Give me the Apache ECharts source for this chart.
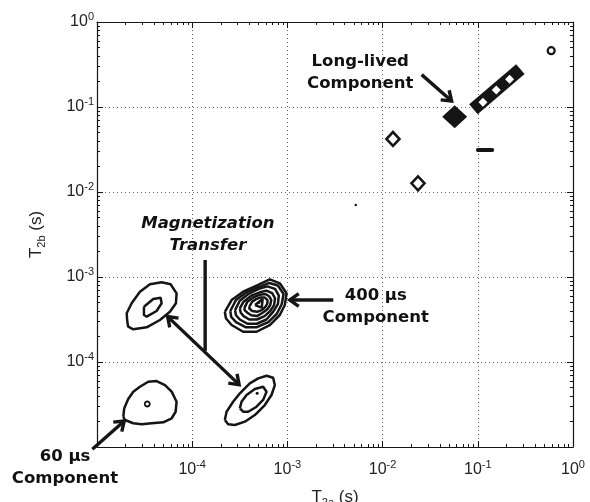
<!DOCTYPE html>
<html><head><meta charset="utf-8">
<script src="https://cdn.jsdelivr.net/npm/echarts@6/dist/echarts.min.js"></script>
<style>html,body{margin:0;padding:0;background:#fff}#c{width:590px;height:502px}</style>
</head><body><div id="c"></div>
<script>
// All vertices below are [log10(T2a / s), log10(T2b / s)].
const c60Outer = [[-4.724,-4.644],[-4.714,-4.545],[-4.672,-4.435],[-4.619,-4.349],[-4.549,-4.291],[-4.462,-4.232],[-4.374,-4.224],[-4.286,-4.271],[-4.216,-4.349],[-4.164,-4.467],[-4.174,-4.585],[-4.216,-4.662],[-4.304,-4.709],[-4.426,-4.721],[-4.531,-4.733],[-4.619,-4.721],[-4.706,-4.682]];
const c60Center = [[-4.472,-4.494]];

const mtUpperOuter = [[-4.682,-3.526],[-4.688,-3.427],[-4.636,-3.309],[-4.549,-3.173],[-4.444,-3.086],[-4.321,-3.062],[-4.227,-3.086],[-4.164,-3.192],[-4.171,-3.309],[-4.234,-3.408],[-4.339,-3.506],[-4.478,-3.592],[-4.619,-3.615],[-4.672,-3.585]];
const mtUpperInner = [[-4.507,-3.349],[-4.409,-3.259],[-4.332,-3.244],[-4.321,-3.309],[-4.374,-3.400],[-4.478,-3.467],[-4.507,-3.447]];

const mtLowerOuter = [[-3.657,-4.682],[-3.639,-4.585],[-3.570,-4.467],[-3.499,-4.368],[-3.395,-4.251],[-3.307,-4.192],[-3.219,-4.161],[-3.150,-4.185],[-3.132,-4.271],[-3.167,-4.388],[-3.237,-4.506],[-3.342,-4.624],[-3.447,-4.702],[-3.552,-4.741],[-3.622,-4.733]];
const mtLowerInner = [[-3.499,-4.545],[-3.482,-4.467],[-3.429,-4.388],[-3.342,-4.318],[-3.255,-4.291],[-3.219,-4.349],[-3.255,-4.447],[-3.324,-4.526],[-3.412,-4.585],[-3.465,-4.585]];
const mtLowerDot = [[-3.318,-4.368]];

const c400L1 = [[-3.657,-3.409],[-3.586,-3.271],[-3.465,-3.173],[-3.307,-3.094],[-3.185,-3.027],[-3.080,-3.074],[-3.009,-3.192],[-3.027,-3.330],[-3.080,-3.447],[-3.185,-3.565],[-3.324,-3.644],[-3.465,-3.644],[-3.586,-3.565],[-3.646,-3.486]];
const c400L2 = [[-3.60,-3.40],[-3.54,-3.27],[-3.43,-3.18],[-3.30,-3.12],[-3.19,-3.07],[-3.10,-3.10],[-3.04,-3.20],[-3.06,-3.32],[-3.11,-3.43],[-3.20,-3.53],[-3.32,-3.59],[-3.44,-3.59],[-3.54,-3.53],[-3.59,-3.47]];
const c400L3 = [[-3.55,-3.39],[-3.50,-3.28],[-3.41,-3.20],[-3.30,-3.14],[-3.21,-3.11],[-3.13,-3.14],[-3.09,-3.22],[-3.10,-3.32],[-3.15,-3.41],[-3.22,-3.50],[-3.32,-3.55],[-3.42,-3.55],[-3.50,-3.50],[-3.54,-3.45]];
const c400L4 = [[-3.50,-3.37],[-3.46,-3.29],[-3.38,-3.22],[-3.29,-3.18],[-3.22,-3.16],[-3.16,-3.19],[-3.13,-3.25],[-3.14,-3.33],[-3.18,-3.40],[-3.24,-3.46],[-3.32,-3.50],[-3.40,-3.50],[-3.46,-3.46],[-3.49,-3.42]];
const c400L5 = [[-3.45,-3.36],[-3.42,-3.29],[-3.36,-3.24],[-3.29,-3.21],[-3.23,-3.20],[-3.19,-3.23],[-3.17,-3.27],[-3.18,-3.33],[-3.21,-3.38],[-3.26,-3.42],[-3.32,-3.46],[-3.38,-3.45],[-3.42,-3.42],[-3.45,-3.39]];
const c400L6 = [[-3.40,-3.35],[-3.37,-3.29],[-3.33,-3.26],[-3.28,-3.24],[-3.24,-3.24],[-3.21,-3.27],[-3.21,-3.31],[-3.23,-3.35],[-3.27,-3.39],[-3.32,-3.41],[-3.37,-3.40],[-3.40,-3.37]];
const c400Core = [[-3.34,-3.33],[-3.26,-3.26],[-3.27,-3.36]];
const c400Dot = [[-3.30,-3.30]];

const openDiamonds = [[-1.891,-1.376],[-1.628,-1.898]];
const smallRing = [[-0.229,-0.337]];
const tinyDot = [[-2.282,-2.153]];
const longLivedPeak = [[-1.243,-1.114]];
const ridge = [[-1.046,-1.027],[-0.553,-0.555]];
const ridgeGaps = [[-0.946,-0.945],[-0.806,-0.800],[-0.666,-0.674]];
const dash = [[-0.999,-1.506],[-0.849,-1.506]];

// axis ticks (seconds)
const majorTicks = [1e-5,1e-4,1e-3,1e-2,1e-1,1];
const labelTicks = [1e-4,1e-3,1e-2,1e-1,1];
const minorTicks = [];
for (let e = -5; e < 0; e++) for (let k = 2; k <= 9; k++) minorTicks.push(k * Math.pow(10, e));

// annotations, anchors in [log10 x, log10 y]
const notes = [
  {text:'Long-lived\nComponent', at:[-2.235,-0.594], italic:false},
  {text:'400 µs\nComponent', at:[-2.072,-3.353], italic:false},
  {text:'Magnetization\nTransfer', at:[-3.835,-2.506], italic:true},
  {text:'60 µs\nComponent', at:[-5.336,-5.247], italic:false}
];
const arrows = [
  {from:[-1.590,-0.619], to:[-1.275,-0.929], start:false, end:true},
  {from:[-2.518,-3.271], to:[-2.975,-3.271], start:false, end:true},
  {from:[-5.049,-5.027], to:[-4.714,-4.694], start:false, end:true},
  {from:[-4.258,-3.466], to:[-3.507,-4.266], start:true, end:true},
  {from:[-3.864,-2.800], to:[-3.864,-3.870], start:false, end:false}
];

const toSec = p => [Math.pow(10, p[0]), Math.pow(10, p[1])];
const closed = pts => pts.concat([pts[0]]).map(toSec);
const INK = '#151515';
const tickFont = 'Liberation Sans, Arial, Helvetica, sans-serif';

const richLab = {
  b:{fontSize:16, fontFamily:tickFont, color:'#222'},
  s:{fontSize:11, fontFamily:tickFont, color:'#222', padding:[0,0,10,0]}
};
const powLabel = v => '{b|10}{s|' + Math.round(Math.log10(v)) + '}';
const nameRich = {
  t:{fontSize:17, fontFamily:tickFont, color:'#222'},
  s:{fontSize:11, fontFamily:tickFont, color:'#222', padding:[10,0,0,0]}
};

function mkAxis(pos, ticks, len, opts) {
  return Object.assign({
    type:'log', logBase:10, min:1e-5, max:1, position:pos, gridIndex:0,
    axisLine:{show:false, onZero:false},
    axisTick:{show:true, inside:true, length:len, customValues:ticks, lineStyle:{color:INK, width:1}},
    axisLabel:{show:false},
    splitLine:{show:false},
    minorTick:{show:false}
  }, opts || {});
}
const boxLine = {show:true, onZero:false, lineStyle:{color:INK, width:1.2}};
const grid = {show:true, lineStyle:{color:'#666', width:1, type:[1,3]}};

const xAxis = [
  mkAxis('bottom', majorTicks, 6, {
    axisLine:boxLine, splitLine:grid,
    axisLabel:{show:true, customValues:labelTicks, margin:12, formatter:powLabel, rich:richLab},
    name:'{t|T}{s|2a}{t| (s)}', nameLocation:'middle', nameGap:40, nameTextStyle:{rich:nameRich}
  }),
  mkAxis('bottom', minorTicks, 3),
  mkAxis('top', majorTicks, 6, {axisLine:boxLine}),
  mkAxis('top', minorTicks, 3)
];
const yAxis = [
  mkAxis('left', majorTicks, 6, {
    axisLine:boxLine, splitLine:grid,
    axisLabel:{show:true, customValues:labelTicks, margin:3, formatter:powLabel, rich:richLab},
    name:'{t|T}{s|2b}{t| (s)}', nameLocation:'middle', nameGap:50, nameRotate:90, nameTextStyle:{rich:nameRich}
  }),
  mkAxis('left', minorTicks, 3),
  mkAxis('right', majorTicks, 6, {axisLine:boxLine}),
  mkAxis('right', minorTicks, 3)
];

const contourStyle = {color:INK, width:2.5};
function contour(pts) {
  return {type:'line', data:closed(pts), showSymbol:false, symbol:'none', silent:true,
    lineStyle:contourStyle, xAxisIndex:0, yAxisIndex:0, z:3};
}
function dots(pts, symbol, size, fill, border, bw) {
  return {type:'scatter', data:pts.map(toSec), symbol:symbol, symbolSize:size, silent:true,
    itemStyle:{color:fill, borderColor:border, borderWidth:bw, opacity:1}, xAxisIndex:0, yAxisIndex:0, z:4};
}

const series = [
  contour(c60Outer), contour(mtUpperOuter), contour(mtUpperInner),
  contour(mtLowerOuter), contour(mtLowerInner),
  contour(c400L1), contour(c400L2), contour(c400L3), contour(c400L4), contour(c400L5), contour(c400L6), contour(c400Core),
  dots(c60Center, 'circle', 5, '#fff', INK, 1.8),
  dots(mtLowerDot, 'circle', 3, INK, INK, 0),
  dots(c400Dot, 'circle', 3, INK, INK, 0),
  dots(tinyDot, 'circle', 2.5, INK, INK, 0),
  dots(openDiamonds, 'diamond', [13,14], '#fff', INK, 2.6),
  dots(smallRing, 'circle', 7, '#fff', INK, 2.2),
  dots(longLivedPeak, 'diamond', [25,23], INK, INK, 0),
  {type:'line', data:ridge.map(toSec), showSymbol:false, symbol:'none', silent:true,
    lineStyle:{color:INK, width:13, cap:'butt'}, z:3},
  {type:'line', data:dash.map(toSec), showSymbol:false, symbol:'none', silent:true,
    lineStyle:{color:INK, width:4, cap:'round'}, z:3},
  dots(ridgeGaps, 'diamond', 9, '#fff', '#fff', 0)
];

const chart = echarts.init(document.getElementById('c'), null, {renderer:'canvas'});
chart.setOption({
  animation:false,
  backgroundColor:'#fff',
  grid:{left:97, right:17, top:22, bottom:55, containLabel:false, outerBoundsMode:'none'},
  xAxis:xAxis, yAxis:yAxis, series:series
});

function px(p) { return chart.convertToPixel({gridIndex:0}, toSec(p)); }
const els = [];
function head(tip, tail) {
  const a = Math.atan2(tail[1]-tip[1], tail[0]-tip[0]), L = 11, w = 0.62;
  return [[tip[0]+L*Math.cos(a+w), tip[1]+L*Math.sin(a+w)], tip, [tip[0]+L*Math.cos(a-w), tip[1]+L*Math.sin(a-w)]];
}
arrows.forEach(a => {
  const p0 = px(a.from), p1 = px(a.to);
  const st = {stroke:INK, lineWidth:3.4, fill:null, lineJoin:'miter'};
  els.push({type:'polyline', shape:{points:[p0,p1]}, style:st, z:10});
  if (a.end) els.push({type:'polyline', shape:{points:head(p1,p0)}, style:st, z:10});
  if (a.start) els.push({type:'polyline', shape:{points:head(p0,p1)}, style:st, z:10});
});
notes.forEach(n => {
  const p = px(n.at);
  els.push({type:'text', x:p[0], y:p[1], z:10, style:{
    text:n.text, fill:'#111', fontSize:16.5, fontWeight:'bold', fontStyle:n.italic?'italic':'normal',
    fontFamily:'DejaVu Sans', lineHeight:22, align:'center', verticalAlign:'middle',
    textAlign:'center', textVerticalAlign:'middle'}});
});
chart.setOption({graphic:{elements:els}});
</script>
</body></html>
